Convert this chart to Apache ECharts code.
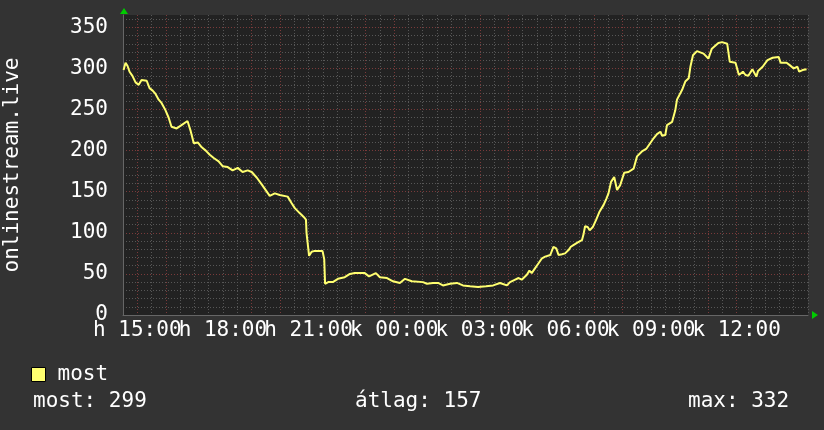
<!DOCTYPE html>
<html>
<head>
<meta charset="utf-8">
<script src="https://cdn.jsdelivr.net/npm/echarts@6/dist/echarts.min.js"></script>
<style>
  html, body { margin: 0; padding: 0; background: #333333; }
  #chart { width: 824px; height: 430px; }
</style>
</head>
<body>
<div id="chart"></div>
<script>
// hours since day-1 midnight (24 = 00:00 next day)
const times = [
  14.52, 14.59, 14.66, 14.73, 14.83, 14.94, 15.05, 15.15, 15.33, 15.43,
  15.54, 15.64, 15.75, 15.85, 15.99, 16.10, 16.20, 16.38, 16.55, 16.76,
  16.87, 16.98, 17.12, 17.26, 17.40, 17.54, 17.68, 17.85, 17.99, 18.17,
  18.34, 18.52, 18.69, 18.87, 19.01, 19.19, 19.36, 19.50, 19.64, 19.82,
  19.99, 20.27, 20.41, 20.52, 20.69, 20.84, 20.91, 20.93, 20.99, 21.02,
  21.11, 21.22, 21.49, 21.55, 21.58, 21.69, 21.85, 22.03, 22.27, 22.45,
  22.62, 22.97, 23.12, 23.36, 23.50, 23.75, 23.96, 24.20, 24.38, 24.62,
  25.01, 25.15, 25.36, 25.54, 25.71, 25.96, 26.20, 26.41, 26.66, 26.94,
  27.22, 27.47, 27.71, 27.95, 28.06, 28.24, 28.36, 28.47, 28.65, 28.74,
  28.82, 28.94, 29.06, 29.18, 29.29, 29.47, 29.58, 29.68, 29.76, 29.88,
  29.99, 30.11, 30.19, 30.28, 30.42, 30.58, 30.64, 30.69, 30.78, 30.85,
  30.96, 31.08, 31.20, 31.34, 31.43, 31.51, 31.60, 31.71, 31.81, 31.92,
  32.06, 32.21, 32.39, 32.51, 32.68, 32.83, 32.97, 33.09, 33.21, 33.33,
  33.39, 33.50, 33.56, 33.74, 33.85, 33.91, 34.09, 34.20, 34.32, 34.38,
  34.47, 34.61, 34.84, 35.01, 35.07, 35.13, 35.36, 35.49, 35.67, 35.76,
  35.96, 36.08, 36.22, 36.31, 36.41, 36.55, 36.69, 36.75, 36.91, 37.08,
  37.26, 37.47, 37.54, 37.75, 37.86, 38.00, 38.13, 38.19, 38.31, 38.45
];
const viewers = [
  298, 307, 303, 296, 291, 283, 280, 286, 285, 276,
  273, 269, 262, 258, 249, 240, 229, 227, 231, 236,
  224, 209, 210, 204, 200, 195, 191, 187, 181, 180,
  176, 179, 174, 176, 174, 167, 159, 152, 145, 148,
  146, 144, 136, 130, 124, 119, 116, 100, 99, 72,
  77, 78, 78, 68, 38, 40, 40, 44, 46, 50,
  51, 51, 47, 51, 46, 45, 41, 39, 44, 41,
  40, 38, 39, 39, 36, 38, 39, 36, 35, 34,
  35, 36, 39, 36, 40, 43, 45, 43, 49, 54,
  51, 57, 63, 69, 71, 73, 83, 81, 73, 74,
  75, 79, 83, 85, 88, 91, 99, 108, 107, 103,
  107, 116, 126, 134, 141, 148, 162, 168, 152, 158,
  173, 174, 178, 193, 199, 202, 209, 215, 220, 223,
  218, 219, 231, 235, 249, 262, 274, 284, 288, 302,
  316, 321, 318, 312, 310, 324, 331, 332, 330, 308,
  307, 292, 296, 292, 291, 299, 290, 297, 302, 310,
  313, 314, 307, 307, 304, 300, 302, 296, 298, 299
];

// labels alternate between two bottom axes so the overlapping texts are all kept
const xTickValuesA = [15, 21, 27, 33];
const xTickLabelsA = ["h 15:00", "h 21:00", "k 03:00", "k 09:00"];
const xTickValuesB = [18, 24, 30, 36];
const xTickLabelsB = ["h 18:00", "k 00:00", "k 06:00", "k 12:00"];
const yTickValues = [0, 50, 100, 150, 200, 250, 300, 350];

const seriesName = "most";
const yAxisTitle = "onlinestream.live";
const stats = [
  ["most", 299],
  ["átlag", 157],
  ["max", 332],
];

const FONT = "DejaVu Sans Mono";
const MINOR = "#575757";
const MAJOR = "#7a3a3a";

const chart = echarts.init(document.getElementById("chart"));

const labelFor = {};
xTickValuesA.forEach((v, i) => { labelFor[v] = xTickLabelsA[i]; });
xTickValuesB.forEach((v, i) => { labelFor[v] = xTickLabelsB[i]; });

// vertical grid every 30 min from 14:30, red pairs every 4 hours
const xGridColors = [MINOR, MAJOR, MINOR, MAJOR, MINOR, MINOR, MINOR, MINOR];
const yGridColors = [MAJOR, MINOR, MINOR, MINOR, MINOR];

const statX = [33, 355, 688];

const labelStyle = {
  formatter: (v) => labelFor[v] || "",
  showMinLabel: true,
  showMaxLabel: true,
  hideOverlap: false,
  color: "#ffffff",
  fontFamily: FONT,
  fontSize: 21,
  margin: 5,
};

chart.setOption({
  backgroundColor: "#333333",
  animation: false,
  textStyle: { fontFamily: FONT },
  grid: {
    left: 123, right: 16, top: 15, bottom: 115,
    outerBoundsMode: "none",
    containLabel: false,
    show: true, backgroundColor: "#222222", borderWidth: 0,
  },
  legend: {
    left: 26, top: 359,
    itemWidth: 14, itemHeight: 14,
    icon: "rect",
    itemStyle: { borderColor: "#000", borderWidth: 1 },
    textStyle: { color: "#ffffff", fontFamily: FONT, fontSize: 21, padding: [0, 0, 0, 7] },
    data: [seriesName],
  },
  xAxis: [
    {
      type: "value",
      position: "bottom",
      min: 14.5,
      max: 38.5,
      interval: 0.5,
      axisLine: { show: true, lineStyle: { color: "#666", width: 1 } },
      axisTick: { show: false },
      axisLabel: { ...labelStyle, customValues: xTickValuesA },
      splitLine: {
        show: true,
        lineStyle: { color: xGridColors, width: 1, type: [1, 2] },
      },
    },
    {
      type: "value",
      position: "bottom",
      offset: 0,
      min: 14.5,
      max: 38.5,
      interval: 0.5,
      axisLine: { show: false },
      axisTick: { show: false },
      splitLine: { show: false },
      axisLabel: { ...labelStyle, customValues: xTickValuesB },
    },
  ],
  yAxis: {
    type: "value",
    min: 0,
    max: 365,
    interval: 10,
    name: yAxisTitle,
    nameLocation: "middle",
    nameRotate: 90,
    nameGap: 100,
    nameTextStyle: { color: "#ffffff", fontFamily: FONT, fontSize: 21 },
    axisLine: { show: true, lineStyle: { color: "#666", width: 1 } },
    axisTick: { show: false },
    axisLabel: {
      customValues: yTickValues,
      color: "#ffffff",
      fontFamily: FONT,
      fontSize: 21,
      margin: 15,
    },
    splitLine: {
      show: true,
      showMaxLine: false,
      lineStyle: { color: yGridColors, width: 1, type: [1, 2] },
    },
  },
  graphic: [
    { type: "polygon", shape: { points: [[124, 8], [120, 14], [128, 14]] }, style: { fill: "#00cc00" } },
    { type: "polygon", shape: { points: [[818, 315], [812, 311], [812, 319]] }, style: { fill: "#00cc00" } },
    ...stats.map(([label, value], i) => ({
      type: "text",
      left: statX[i],
      top: 391,
      style: { text: `${label}: ${value}`, fill: "#ffffff", font: `21px "${FONT}"` },
    })),
  ],
  series: [
    {
      name: seriesName,
      type: "line",
      xAxisIndex: 0,
      data: times.map((t, i) => [t, viewers[i]]),
      showSymbol: false,
      itemStyle: { color: "#ffff70" },
      lineStyle: { color: "#ffff70", width: 2 },
    },
  ],
});
</script>
</body>
</html>
